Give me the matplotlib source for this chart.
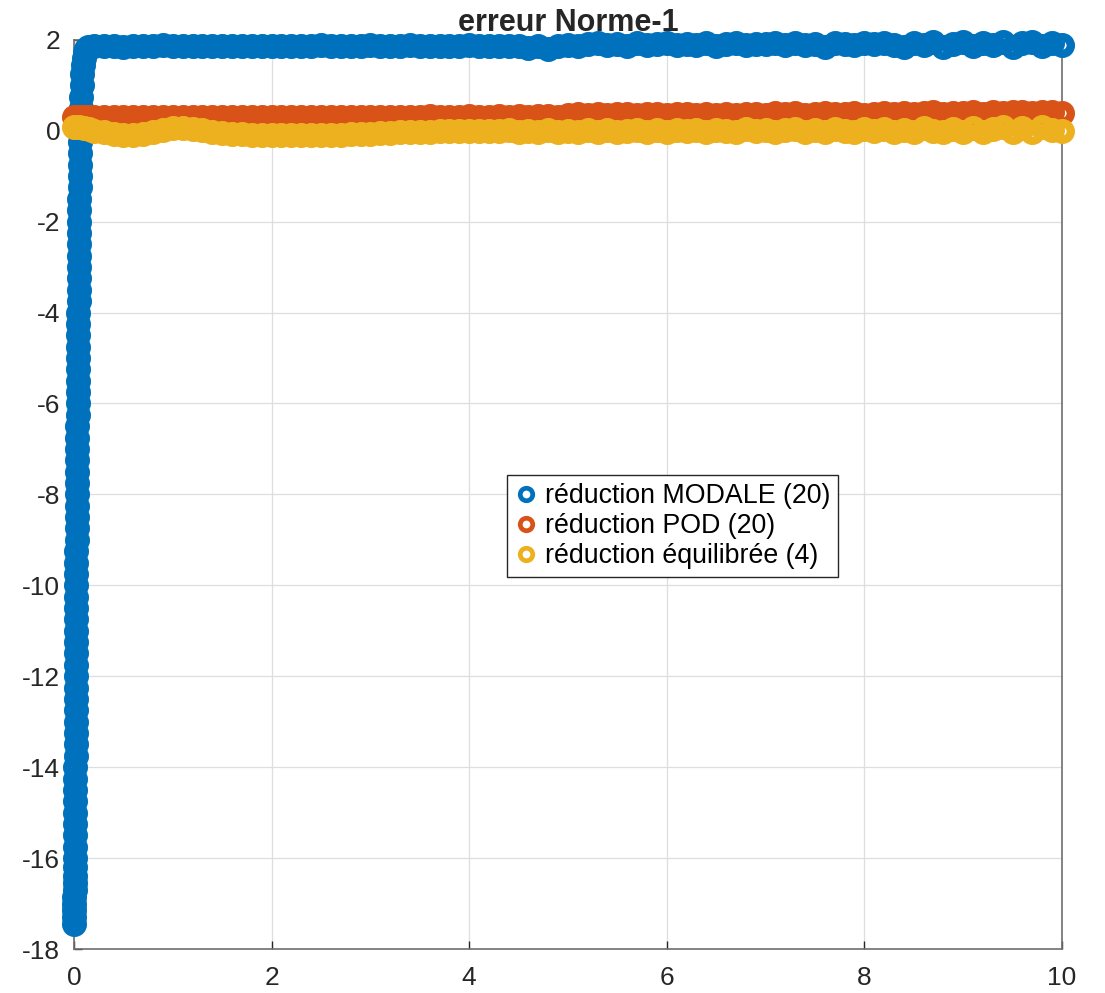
import matplotlib
matplotlib.use("Agg")
import matplotlib.pyplot as plt

plt.rcParams['font.family'] = ['Liberation Sans', 'DejaVu Sans']
plt.rcParams['axes.unicode_minus'] = False

# ---- error curves (Norme-1) for the three reduced models ----
# modal reduction: fast initial transient, sampled finely
t_rise = [0.000, 0.001, 0.002, 0.003, 0.004, 0.005, 0.006, 0.007, 0.008, 0.009,
          0.010, 0.011, 0.012, 0.012, 0.013, 0.013, 0.014, 0.014, 0.015, 0.015,
          0.016, 0.016, 0.017, 0.017, 0.018, 0.018, 0.019, 0.019, 0.020, 0.020,
          0.021, 0.021, 0.022, 0.022, 0.023, 0.023, 0.024, 0.025, 0.026, 0.027,
          0.028, 0.029, 0.030, 0.031, 0.032, 0.033, 0.034, 0.035, 0.036, 0.037,
          0.038, 0.039, 0.040, 0.041, 0.042, 0.043, 0.044, 0.045, 0.046, 0.047,
          0.048, 0.049, 0.050, 0.051, 0.052, 0.053, 0.054, 0.055, 0.056, 0.057,
          0.058, 0.060, 0.062, 0.064, 0.067, 0.070, 0.073, 0.077, 0.082, 0.088,
          0.096, 0.106, 0.120, 0.140]
modal_rise = [-17.45, -17.3, -17.15, -17.0, -16.85, -16.7, -16.55, -16.4, -16.2, -16.0,
              -15.75, -15.5, -15.25, -15.0, -14.75, -14.5, -14.25, -14.0, -13.75, -13.5,
              -13.25, -13.0, -12.75, -12.5, -12.25, -12.0, -11.75, -11.5, -11.25, -11.0,
              -10.75, -10.5, -10.25, -10.0, -9.75, -9.5, -9.25, -9.0, -8.75, -8.5,
              -8.25, -8.0, -7.75, -7.5, -7.25, -7.0, -6.75, -6.5, -6.25, -6.0,
              -5.75, -5.5, -5.25, -5.0, -4.75, -4.5, -4.25, -4.0, -3.75, -3.5,
              -3.25, -3.0, -2.75, -2.5, -2.25, -2.0, -1.75, -1.5, -1.25, -1.0,
              -0.75, -0.5, -0.25, 0.0, 0.25, 0.5, 0.75, 1.0, 1.25, 1.45,
              1.6, 1.72, 1.8, 1.85]

# first samples for POD and balanced reduction
t_head = [0.0, 0.05, 0.1, 0.15]
pod_head = [0.31, 0.31, 0.31, 0.31]
equil_head = [0.09, 0.08, 0.06, 0.03]

# common time grid after the transient
t_grid = [0.2, 0.3, 0.4, 0.5, 0.6, 0.7, 0.8, 0.9, 1.0, 1.1,
          1.2, 1.3, 1.4, 1.5, 1.6, 1.7, 1.8, 1.9, 2.0, 2.1,
          2.2, 2.3, 2.4, 2.5, 2.6, 2.7, 2.8, 2.9, 3.0, 3.1,
          3.2, 3.3, 3.4, 3.5, 3.6, 3.7, 3.8, 3.9, 4.0, 4.1,
          4.2, 4.3, 4.4, 4.5, 4.6, 4.7, 4.8, 4.9, 5.0, 5.1,
          5.2, 5.3, 5.4, 5.5, 5.6, 5.7, 5.8, 5.9, 6.0, 6.1,
          6.2, 6.3, 6.4, 6.5, 6.6, 6.7, 6.8, 6.9, 7.0, 7.1,
          7.2, 7.3, 7.4, 7.5, 7.6, 7.7, 7.8, 7.9, 8.0, 8.1,
          8.2, 8.3, 8.4, 8.5, 8.6, 8.7, 8.8, 8.9, 9.0, 9.1,
          9.2, 9.3, 9.4, 9.5, 9.6, 9.7, 9.8, 9.9, 10.0]

modal_tail = [1.86, 1.87, 1.87, 1.83, 1.87, 1.87, 1.87, 1.88, 1.87, 1.87,
              1.87, 1.87, 1.87, 1.87, 1.87, 1.87, 1.87, 1.87, 1.87, 1.87,
              1.87, 1.87, 1.87, 1.88, 1.87, 1.87, 1.87, 1.87, 1.88, 1.87,
              1.87, 1.87, 1.88, 1.87, 1.87, 1.87, 1.87, 1.87, 1.88, 1.87,
              1.87, 1.87, 1.87, 1.87, 1.81, 1.86, 1.80, 1.87, 1.88, 1.87,
              1.90, 1.92, 1.88, 1.91, 1.86, 1.92, 1.89, 1.90, 1.92, 1.88,
              1.91, 1.89, 1.92, 1.87, 1.90, 1.92, 1.88, 1.91, 1.90, 1.92,
              1.88, 1.93, 1.89, 1.91, 1.85, 1.92, 1.90, 1.88, 1.93, 1.90,
              1.92, 1.88, 1.84, 1.93, 1.89, 1.95, 1.83, 1.91, 1.94, 1.86,
              1.93, 1.88, 1.95, 1.85, 1.92, 1.94, 1.87, 1.93, 1.88]

pod_tail = [0.31, 0.31, 0.30, 0.29, 0.30, 0.31, 0.31, 0.31, 0.31, 0.31,
            0.31, 0.31, 0.31, 0.31, 0.31, 0.31, 0.31, 0.31, 0.31, 0.31,
            0.31, 0.31, 0.31, 0.31, 0.31, 0.31, 0.31, 0.31, 0.31, 0.31,
            0.31, 0.31, 0.31, 0.31, 0.32, 0.31, 0.31, 0.31, 0.32, 0.31,
            0.31, 0.32, 0.31, 0.32, 0.31, 0.32, 0.33, 0.31, 0.35, 0.37,
            0.34, 0.37, 0.35, 0.36, 0.37, 0.34, 0.36, 0.37, 0.35, 0.36,
            0.36, 0.35, 0.37, 0.34, 0.36, 0.35, 0.37, 0.36, 0.35, 0.38,
            0.36, 0.38, 0.35, 0.37, 0.38, 0.36, 0.37, 0.38, 0.35, 0.37,
            0.38, 0.36, 0.39, 0.37, 0.38, 0.40, 0.36, 0.39, 0.38, 0.40,
            0.37, 0.41, 0.39, 0.40, 0.42, 0.38, 0.41, 0.40, 0.38]

equil_tail = [0.00, -0.04, -0.08, -0.10, -0.10, -0.08, -0.04, 0.01, 0.05, 0.06,
              0.04, 0.01, -0.02, -0.05, -0.07, -0.08, -0.09, -0.09, -0.10, -0.10,
              -0.10, -0.10, -0.10, -0.09, -0.10, -0.09, -0.08, -0.08, -0.07, -0.06,
              -0.05, -0.04, -0.03, -0.02, -0.02, -0.01, -0.01, 0.00, -0.01, 0.00,
              -0.01, 0.00, 0.01, -0.02, 0.00, -0.03, 0.01, -0.02, 0.00, -0.03,
              0.01, -0.02, 0.02, -0.03, 0.00, 0.02, -0.02, 0.01, -0.03, 0.02,
              -0.01, 0.02, -0.03, 0.01, 0.00, -0.02, 0.03, -0.01, 0.02, -0.03,
              0.01, 0.03, -0.02, 0.02, -0.03, 0.04, 0.00, -0.02, 0.03, -0.01,
              0.04, -0.03, 0.02, -0.04, 0.05, 0.00, -0.03, 0.04, -0.02, 0.06,
              -0.04, 0.03, 0.07, -0.03, 0.05, -0.02, 0.08, 0.01, 0.00]

labels = ['réduction MODALE (20)', 'réduction POD (20)', 'réduction équilibrée (4)']
colors = ['#0072BD', '#D95319', '#EDB120']

x_ticks = [0, 2, 4, 6, 8, 10]
y_ticks = [-18, -16, -14, -12, -10, -8, -6, -4, -2, 0, 2]

fig = plt.figure(figsize=(11.05, 9.93), dpi=100)
ax = fig.add_axes([0.067, 0.0443, 0.894, 0.9157])

# hollow circles, drawn above the axes frame and not clipped
mk = dict(linestyle='none', marker='o', fillstyle='none', markersize=12,
          markeredgewidth=6, clip_on=False, zorder=3)
ax.plot(t_rise + t_grid, modal_rise + modal_tail, color=colors[0],
        label=labels[0], **mk)
ax.plot(t_head + t_grid, pod_head + pod_tail, color=colors[1],
        label=labels[1], **mk)
ax.plot(t_head + t_grid, equil_head + equil_tail, color=colors[2],
        label=labels[2], **mk)

ax.set_xlim(0, 10)
ax.set_ylim(-18, 2)
ax.set_xticks(x_ticks)
ax.set_yticks(y_ticks)
ax.grid(True, color='#dedede', linewidth=0.9)
ax.set_axisbelow(True)
ax.tick_params(direction='in', length=6, width=1, colors='#262626',
               labelsize=19, top=False, right=False)
ax.tick_params(axis='x', pad=12)
ax.tick_params(axis='y', pad=10)
for side in ['left', 'bottom', 'right', 'top']:
    ax.spines[side].set_color('#6e6e6e')
    ax.spines[side].set_linewidth(1.2)

ax.set_title('erreur Norme-1', fontsize=22, fontweight='bold', color='#262626', pad=6)

leg = ax.legend(loc='center', bbox_to_anchor=(0.606, 0.465), fontsize=19.3,
                frameon=True, fancybox=False, edgecolor='#262626', framealpha=1,
                handlelength=0.8, handletextpad=0.3, borderpad=0.3,
                labelspacing=0.15, markerscale=0.75, borderaxespad=0)
leg.get_frame().set_linewidth(1)
leg.set_zorder(5)
for h in leg.legend_handles:
    h.set_markeredgewidth(3.4)

fig.savefig('out.png', dpi=100)
